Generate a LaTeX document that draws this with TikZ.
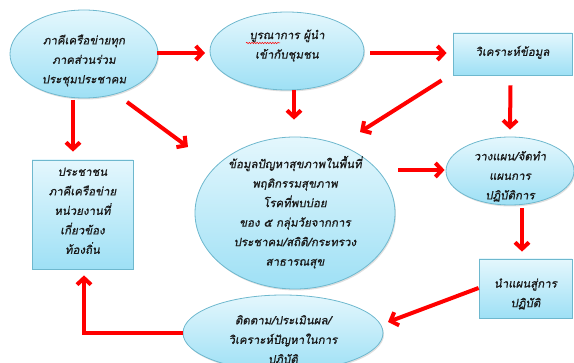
\documentclass[tikz,border=0pt]{standalone}
\usepackage{fontspec}
\newfontfamily\thai[Script=Thai, FakeSlant=0.18, FakeBold=0.9]{Loma}
\usetikzlibrary{shapes.geometric,arrows.meta,calc,shadows,decorations.pathmorphing}
\definecolor{fillTop}{HTML}{E4F7FD}
\definecolor{fillBot}{HTML}{9EE0F5}
\definecolor{edge}{HTML}{6EB8CE}
\definecolor{txt}{HTML}{1A1A1A}
\newcommand\tx[2]{\raisebox{#1}[0pt][0pt]{\begin{tabular}{@{}c@{}}#2\end{tabular}}}
\tikzset{
  shape base/.style={draw=edge, line width=0.8pt, top color=fillTop, bottom color=fillBot,
    text=txt, inner sep=0pt,
    font=\thai\fontsize{11.5}{19.5}\selectfont,
    drop shadow={shadow xshift=1pt, shadow yshift=-1.5pt, opacity=0.25}},
  ell/.style={shape base, ellipse},
  boxnode/.style={shape base, rectangle},
  arr/.style={draw=red, line width=4pt, -{Straight Barb[length=6.5pt,width=14pt]}}
}
\begin{document}
\begin{tikzpicture}[x=1pt,y=-1pt]
\path[use as bounding box] (0,0) rectangle (574,363);
% nodes
\node[ell, minimum width=148pt, minimum height=88pt] (n1) at (84,54)
  {\tx{-9pt}{ภาคีเครือข่ายทุก\\ภาคส่วนร่วม\\ประชุมประชาคม}};
\node[ell, minimum width=154pt, minimum height=78pt] (n2) at (287,51)
  {\tx{3pt}{บูรณาการ ผู้นำ\\เข้ากับชุมชน}};
\node[boxnode, minimum width=119pt, minimum height=42pt] (n3) at (512.5,54)
  {\tx{-1pt}{วิเคราะห์ข้อมูล}};
\node[boxnode, minimum width=101pt, minimum height=109pt] (lb) at (82.5,214.5)
  {\tx{0.5pt}{ประชาชน\\ภาคีเครือข่าย\\หน่วยงานที่\\เกี่ยวข้อง\\ท้องถิ่น}};
\node[ell, minimum width=200pt, minimum height=152pt] (c) at (295,213)
  {\tx{-3pt}{ข้อมูลปัญหาสุขภาพในพื้นที่\\พฤติกรรมสุขภาพ\\โรคที่พบบ่อย\\ของ ๕ กลุ่มวัยจากการ\\ประชาคม/สถิติ/กระทรวง\\สาธารณสุข}};
\node[ell, minimum width=128pt, minimum height=68pt] (p) at (510,171)
  {\tx{-8pt}{วางแผน/จัดทำ\\แผนการ\\ปฏิบัติการ}};
\node[boxnode, minimum width=93pt, minimum height=59pt] (ab) at (525.5,288.5)
  {\tx{-8pt}{นำแผนสู่การ\\ปฏิบัติ}};
\node[ell, minimum width=200pt, minimum height=76pt] (f) at (283,333)
  {\tx{-10pt}{ติดตาม/ประเมินผล/\\วิเคราะห์ปัญหาในการ\\ปฏิบัติ}};
% spell-check squiggle
\draw[red, line width=0.5pt, decorate, decoration={snake, amplitude=0.7pt, segment length=2.6pt}]
  ($(n2)+(-41,-8)$) -- ($(n2)+(-7,-8)$);
% connectors
\draw[arr] ($(n1)+(73,-1)$) -- ($(n2)+(-82,2)$);
\draw[arr] ($(n1)+(43,48)$) -- ($(c)+(-107,-66)$);
\draw[arr] ($(n1)+(-11,46)$) -- ($(lb.north)+(-9.5,-8)$);
\draw[arr] ($(n2)+(83,2)$) -- ($(n3.west)+(-6,-1)$);
\draw[arr] ($(n2)+(7,39)$) -- ($(c.north)+(-1,-17)$);
\draw[arr] ($(n3.south)+(-2,10)$) -- ($(p.north)+(0,-7)$);
\draw[arr] ($(n3.south west)+(-11,5)$) -- ($(c)+(65,-81)$);
\draw[arr] ($(c)+(103,-43)$) -- ($(p.west)+(-1,-1)$);
\draw[arr] ($(p.south)+(12,3)$) -- ($(ab.north)+(-3.5,-7)$);
\draw[arr] ($(ab.west)+(0,-0.5)$) -- ($(f)+(105,-11)$);
\draw[arr] (f.west) -| ($(lb.south)+(1.5,6)$);
\end{tikzpicture}
\end{document}
